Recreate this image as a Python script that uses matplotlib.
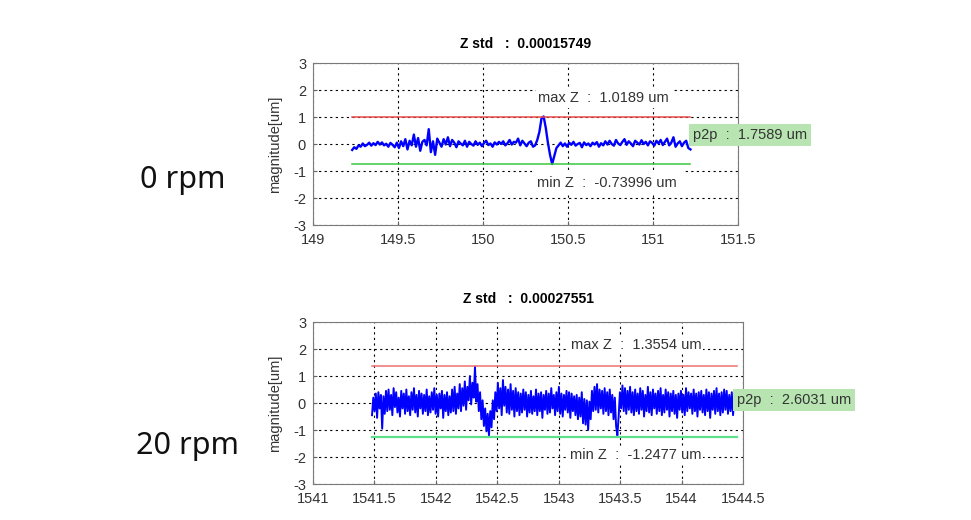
import numpy as np
import matplotlib
matplotlib.use("Agg")
import matplotlib.pyplot as plt

plt.rcParams['font.family'] = ['Liberation Sans', 'DejaVu Sans']

# ---- data: 0 rpm ----
t0_start, t0_end = 149.23, 151.22
z0 = [-0.22, -0.12, -0.18, -0.05, -0.10, 0.02, -0.08, -0.03, 0.05, -0.06,
      0.03, -0.04, 0.08, -0.02, 0.06, -0.05, 0.01, -0.10, 0.04, -0.03,
      -0.12, 0.05, -0.15, 0.10, -0.08, 0.18, -0.20, 0.12, -0.05, 0.35,
      -0.10, 0.22, -0.25, 0.08, 0.15, -0.05, 0.55, -0.30, 0.10, -0.40,
      0.20, 0.05, -0.10, 0.18, -0.02, 0.25, -0.08, 0.15, 0.05, -0.12,
      0.10, 0.02, -0.05, 0.12, -0.10, 0.08, 0.00, -0.06, 0.10, -0.03,
      0.05, -0.08, 0.04, 0.12, -0.04, 0.02, -0.10, 0.06, -0.02, 0.08,
      0.00, 0.10, -0.05, 0.03, 0.15, -0.02, 0.08, 0.05, 0.20, -0.05,
      0.12, 0.02, -0.08, 0.05, 0.10, -0.10, -0.05, 0.15, 0.45, 0.95,
      1.02, 0.60, 0.05, -0.40, -0.74, -0.45, -0.15, -0.05, 0.05, -0.08,
      0.02, -0.10, 0.05, -0.03, 0.08, -0.06, 0.00, 0.04, -0.12, 0.06,
      -0.04, 0.02, -0.08, 0.05, -0.02, 0.07, -0.10, 0.03, -0.05, 0.10,
      -0.02, 0.12, 0.00, -0.06, 0.15, 0.02, -0.04, 0.08, 0.18, -0.03,
      0.10, 0.02, -0.08, 0.12, 0.05, -0.02, 0.14, 0.00, 0.08, -0.05,
      0.10, 0.04, -0.06, 0.12, 0.02, 0.15, -0.04, 0.08, 0.20, -0.05,
      0.05, 0.25, -0.10, 0.02, 0.10, -0.08, 0.05, 0.12, -0.15, -0.20]
max0, min0, p2p0, std0 = 1.0189, -0.73996, 1.7589, 0.00015749

# ---- data: 20 rpm ----
t1_start, t1_end = 1541.48, 1544.45
z1 = [-0.45, 0.20, -0.30, 0.35, -0.55, 0.40, -0.20, 0.30, -0.95, 0.25, -0.40, 0.45,
      -0.30, 0.50, -0.25, 0.30, -0.45, 0.55, -0.15, 0.40, -0.35, 0.20, -0.50, 0.45,
      -0.20, 0.35, -0.40, 0.50, -0.30, 0.25, -0.45, 0.40, -0.25, 0.55, -0.35, 0.30,
      -0.50, 0.45, -0.20, 0.35, -0.40, 0.30, -0.30, 0.50, -0.45, 0.25, -0.35, 0.40,
      -0.25, 0.55, -0.40, 0.30, -0.50, 0.35, -0.20, 0.45, -0.55, 0.30, -0.30, 0.40,
      -0.45, 0.25, -0.35, 0.50, -0.30, 0.60, -0.40, 0.35, -0.20, 0.70, -0.30, 0.55,
      -0.10, 0.80, -0.25, 0.60, 0.10, 1.00, -0.05, 0.75, 0.20, 1.35, 0.05, 0.70,
      -0.30, 0.40, -0.60, 0.10, -0.85, -0.20, -1.05, -0.40, -1.20, -0.30, -0.90, 0.10,
      -0.60, 0.40, -0.30, 0.75, -0.20, 0.55, -0.45, 0.85, -0.10, 0.60, -0.35, 0.50,
      -0.40, 0.70, -0.25, 0.45, -0.50, 0.55, -0.30, 0.40, -0.45, 0.35, -0.35, 0.50,
      -0.25, 0.40, -0.50, 0.30, -0.35, 0.45, -0.40, 0.25, -0.30, 0.50, -0.45, 0.35,
      -0.30, 0.40, -0.55, 0.30, -0.25, 0.45, -0.40, 0.35, -0.35, 0.55, -0.20, 0.30,
      -0.45, 0.40, -0.30, 0.60, -0.40, 0.35, -0.50, 0.30, -0.25, 0.45, -0.35, 0.40,
      -0.55, 0.35, -0.30, 0.25, -0.45, 0.30, -0.60, 0.20, -0.50, 0.40, -0.75, 0.15,
      -0.80, 0.10, -1.00, 0.05, -0.60, 0.45, -0.30, 0.60, -0.25, 0.70, -0.35, 0.50,
      -0.20, 0.45, -0.40, 0.55, -0.30, 0.40, -0.45, 0.50, -0.35, 0.30, -0.60, 0.20,
      -0.85, -1.20, -0.50, 0.40, -0.20, 0.65, -0.30, 0.55, -0.40, 0.45, -0.25, 0.60,
      -0.35, 0.40, -0.45, 0.50, -0.30, 0.35, -0.40, 0.55, -0.25, 0.45, -0.50, 0.30,
      -0.30, 0.60, -0.35, 0.40, -0.45, 0.50, -0.20, 0.35, -0.40, 0.45, -0.30, 0.55,
      -0.45, 0.30, -0.35, 0.50, -0.25, 0.40, -0.50, 0.35, -0.30, 0.45, -0.40, 0.30,
      -0.55, 0.35, -0.25, 0.45, -0.35, 0.30, -0.45, 0.55, -0.30, 0.40, -0.20, 0.35,
      -0.40, 0.50, -0.30, 0.35, -0.50, 0.40, -0.25, 0.45, -0.35, 0.30, -0.45, 0.50,
      -0.30, 0.40, -0.55, 0.35, -0.25, 0.45, -0.40, 0.55, -0.30, 0.35, -0.45, 0.40,
      -0.35, 0.50, -0.25, 0.45, -0.40, 0.30, -0.30, 0.40, -0.45, 0.25, -0.20, -0.10]
max1, min1, p2p1, std1 = 1.3554, -1.2477, 2.6031, 0.00027551

xticks0 = [149, 149.5, 150, 150.5, 151, 151.5]
xlabels0 = ["149", "149.5", "150", "150.5", "151", "151.5"]
xticks1 = [1541, 1541.5, 1542, 1542.5, 1543, 1543.5, 1544, 1544.5]
xlabels1 = ["1541", "1541.5", "1542", "1542.5", "1543", "1543.5", "1544", "1544.5"]
yticks = [-3, -2, -1, 0, 1, 2, 3]
rpm_labels = ["0 rpm", "20 rpm"]

fig = plt.figure(figsize=(9.71, 5.20), dpi=100)
ax0 = fig.add_axes([0.3224, 0.5673, 0.4377, 0.3115])
ax1 = fig.add_axes([0.3224, 0.0692, 0.4428, 0.3115])

txt = '#333333'


def style(ax, xt, xl, xlim):
    ax.set_xlim(*xlim)
    ax.set_ylim(-3, 3)
    ax.set_xticks(xt)
    ax.set_xticklabels(xl)
    ax.set_yticks(yticks)
    ax.set_yticklabels([str(v) for v in yticks])
    ax.tick_params(direction='in', length=3, colors='#666666', labelcolor=txt,
                   labelsize=10.5)
    ax.tick_params(axis='x', pad=6)
    ax.tick_params(axis='y', pad=5)
    for s in ax.spines.values():
        s.set_color('#7a7a7a')
    ax.grid(True, color='black', linestyle=(0, (2, 3)), linewidth=0.8)
    ax.set_axisbelow(True)
    ax.set_ylabel('magnitude[um]', fontsize=10.5, color=txt, labelpad=8)


# top: 0 rpm
t0 = np.linspace(t0_start, t0_end, len(z0))
style(ax0, xticks0, xlabels0, (149, 151.5))
ax0.plot(t0, z0, color='#0000ff', linewidth=1.7)
ax0.plot([t0_start, t0_end], [max0, max0], color='#e84a4a', linewidth=1.1)
ax0.plot([t0_start, t0_end], [min0, min0], color='#3cc83c', linewidth=1.1)
ax0.set_title(f'Z std   :  {std0}', fontsize=10, fontweight='bold', pad=11)
ax0.text(150.71, 1.70, f'max Z  :  {max0} um', ha='center', va='center',
         fontsize=10.5, color=txt,
         bbox=dict(facecolor='white', edgecolor='none', pad=2))
ax0.text(150.73, -1.44, f'min Z  :  {min0} um', ha='center', va='center',
         fontsize=10.5, color=txt,
         bbox=dict(facecolor='white', edgecolor='none', pad=4))
ax0.text(151.235, 0.33, f'p2p  :  {p2p0} um', ha='left', va='center',
         fontsize=10.5, color=txt,
         bbox=dict(facecolor='#b8e4b2', edgecolor='none', pad=3))

# bottom: 20 rpm
t1 = np.linspace(t1_start, t1_end, len(z1))
style(ax1, xticks1, xlabels1, (1541, 1544.5))
ax1.plot(t1, z1, color='#0000ff', linewidth=1.4)
ax1.plot([t1_start, t1_end], [max1, max1], color='#f07070', linewidth=1.1)
ax1.plot([t1_start, t1_end], [min1, min1], color='#5ee08a', linewidth=1.6)
ax1.set_title(f'Z std   :  {std1}', fontsize=10, fontweight='bold', pad=14)
ax1.text(1543.63, 2.15, f'max Z  :  {max1} um', ha='center', va='center',
         fontsize=10.5, color=txt,
         bbox=dict(facecolor='white', edgecolor='none', pad=1))
ax1.text(1543.63, -1.93, f'min Z  :  {min1} um', ha='center', va='center',
         fontsize=10.5, color=txt,
         bbox=dict(facecolor='white', edgecolor='none', pad=1))
ax1.text(1544.45, 0.11, f'p2p  :  {p2p1} um', ha='left', va='center',
         fontsize=10.5, color=txt,
         bbox=dict(facecolor='#b8e4b2', edgecolor='none', pad=3))

# row labels
fig.text(140 / 971, 1 - 180 / 520, rpm_labels[0], ha='left', va='center',
         fontsize=22, family=['Noto Sans', 'DejaVu Sans'], color='#111111')
fig.text(136 / 971, 1 - 446 / 520, rpm_labels[1], ha='left', va='center',
         fontsize=22, family=['Noto Sans', 'DejaVu Sans'], color='#111111')

fig.savefig('out.png', dpi=100)
